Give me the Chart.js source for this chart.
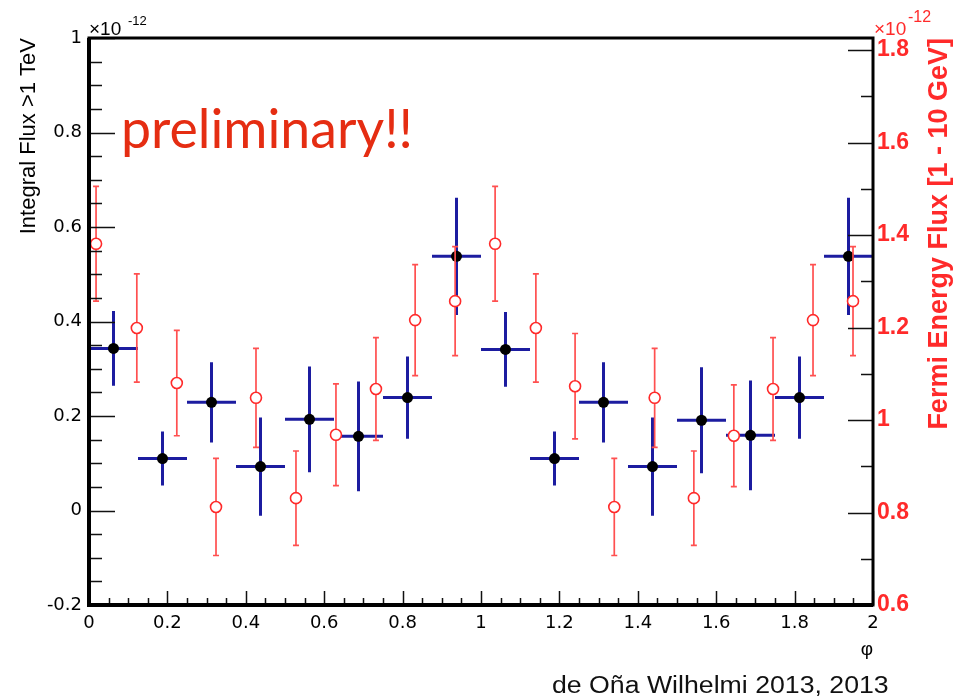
<!DOCTYPE html>
<html>
<head>
<meta charset="utf-8">
<script src="https://cdn.jsdelivr.net/npm/chart.js@4.4.1/dist/chart.umd.min.js"></script>
<style>
  html, body { margin: 0; padding: 0; background: #fff; }
  #wrap { position: relative; width: 962px; height: 698px; }
</style>
</head>
<body>
<div id="wrap"><canvas id="fluxChart" width="962" height="698"></canvas></div>
<script>
// H.E.S.S. integral flux > 1 TeV (left axis, units of 1e-12)
const hessPhase = [0.0625, 0.1875, 0.3125, 0.4375, 0.5625, 0.6875, 0.8125, 0.9375,
                   1.0625, 1.1875, 1.3125, 1.4375, 1.5625, 1.6875, 1.8125, 1.9375];
const hessFlux = [0.343, 0.110, 0.229, 0.093, 0.193, 0.157, 0.239, 0.538,
                  0.341, 0.110, 0.229, 0.093, 0.191, 0.159, 0.239, 0.538];
const hessErr = [0.079, 0.057, 0.085, 0.104, 0.112, 0.116, 0.087, 0.124,
                 0.079, 0.057, 0.085, 0.104, 0.112, 0.116, 0.087, 0.124];
const hessHalfBin = 0.0625;

// Fermi energy flux 1-10 GeV (right axis, units of 1e-12)
const fermiPhase = [0.018, 0.122, 0.224, 0.324, 0.426, 0.528, 0.630, 0.732, 0.832, 0.934,
                    1.036, 1.140, 1.240, 1.340, 1.443, 1.543, 1.645, 1.745, 1.847, 1.949];
const fermiFlux = [1.381, 1.199, 1.080, 0.812, 1.048, 0.831, 0.968, 1.067, 1.216, 1.257,
                   1.381, 1.199, 1.073, 0.812, 1.048, 0.831, 0.966, 1.067, 1.216, 1.257];
const fermiErr = [0.124, 0.117, 0.114, 0.105, 0.107, 0.102, 0.110, 0.111, 0.120, 0.118,
                  0.124, 0.117, 0.114, 0.105, 0.107, 0.102, 0.110, 0.111, 0.120, 0.118];

// axes
const phiRange = [0, 2];
const leftRange = [-0.2, 1];
const rightRange = [0.6, 1.826];
const rightTicks = [0.6, 0.7, 0.8, 0.9, 1.0, 1.1, 1.2, 1.3, 1.4, 1.5, 1.6, 1.7, 1.8];

const BLUE = '#1c1ca0';
const RED = '#ff2a2a';
const RED_LIGHT = '#ff5050';
const FONT = '"Liberation Sans", Arial, Helvetica, sans-serif';
const TICK_FONT = '"DejaVu Sans", "Liberation Sans", sans-serif';

const isMajor = v => Math.abs(v / 0.2 - Math.round(v / 0.2)) < 1e-6;
const fmt = v => String(Number(v.toFixed(2)));

const errorBars = {
    id: 'errorBars',
    beforeDatasetDraw(chart, args) {
        const ds = chart.data.datasets[args.index];
        const xs = chart.scales.x;
        const ys = chart.scales[ds.yAxisID];
        const ctx = chart.ctx;
        ctx.save();
        if (ds.label === 'hess') {
            ctx.strokeStyle = BLUE;
            ctx.lineWidth = 3;
            hessPhase.forEach((p, i) => {
                const px = xs.getPixelForValue(p);
                const py = ys.getPixelForValue(hessFlux[i]);
                ctx.beginPath();
                ctx.moveTo(xs.getPixelForValue(p - hessHalfBin), py);
                ctx.lineTo(xs.getPixelForValue(p + hessHalfBin), py);
                ctx.moveTo(px, ys.getPixelForValue(hessFlux[i] + hessErr[i]));
                ctx.lineTo(px, ys.getPixelForValue(hessFlux[i] - hessErr[i]));
                ctx.stroke();
            });
        } else {
            ctx.strokeStyle = RED_LIGHT;
            ctx.lineWidth = 1.7;
            fermiPhase.forEach((p, i) => {
                const px = xs.getPixelForValue(p);
                const top = ys.getPixelForValue(fermiFlux[i] + fermiErr[i]);
                const bot = ys.getPixelForValue(fermiFlux[i] - fermiErr[i]);
                ctx.beginPath();
                ctx.moveTo(px, top);
                ctx.lineTo(px, bot);
                ctx.moveTo(px - 3, top);
                ctx.lineTo(px + 3, top);
                ctx.moveTo(px - 3, bot);
                ctx.lineTo(px + 3, bot);
                ctx.stroke();
            });
        }
        ctx.restore();
    }
};

const frameAndText = {
    id: 'frameAndText',
    afterDraw(chart) {
        const ctx = chart.ctx;
        const a = chart.chartArea;
        const xs = chart.scales.x, yl = chart.scales.y, yr = chart.scales.y2;
        ctx.save();
        // inner tick marks
        ctx.strokeStyle = '#111';
        ctx.lineWidth = 1.5;
        ctx.beginPath();
        yl.ticks.forEach(t => {
            const py = Math.round(yl.getPixelForValue(t.value)) + 0.5;
            ctx.moveTo(a.left, py);
            ctx.lineTo(a.left + (isMajor(t.value) ? 26 : 13), py);
        });
        rightTicks.forEach(v => {
            const py = Math.round(yr.getPixelForValue(v)) + 0.5;
            ctx.moveTo(a.right, py);
            ctx.lineTo(a.right - (isMajor(v) ? 25 : 12), py);
        });
        xs.ticks.forEach(t => {
            const px = Math.round(xs.getPixelForValue(t.value)) + 0.5;
            ctx.moveTo(px, a.bottom);
            ctx.lineTo(px, a.bottom - (isMajor(t.value) ? 14 : 7));
        });
        ctx.stroke();
        // frame
        ctx.strokeStyle = '#000';
        ctx.lineWidth = 3;
        ctx.strokeRect(a.left, a.top, a.right - a.left, a.bottom - a.top);
        ctx.lineWidth = 4;
        ctx.beginPath();
        ctx.moveTo(a.left, a.top);
        ctx.lineTo(a.left, a.bottom);
        ctx.lineTo(a.right, a.bottom);
        ctx.stroke();

        // exponent labels
        ctx.textBaseline = 'alphabetic';
        ctx.textAlign = 'left';
        ctx.fillStyle = '#000';
        ctx.font = '19px ' + FONT;
        ctx.fillText('\u00d710', 89, 35);
        ctx.font = '13px ' + FONT;
        ctx.fillText('-12', 128, 25);
        ctx.fillStyle = RED;
        ctx.font = '19px ' + FONT;
        ctx.fillText('\u00d710', 874, 35);
        ctx.font = '16px ' + FONT;
        ctx.fillText('-12', 908, 22);

        // axis titles
        ctx.fillStyle = '#000';
        ctx.font = '22px ' + FONT;
        ctx.save();
        ctx.translate(35, a.top);
        ctx.rotate(-Math.PI / 2);
        ctx.textAlign = 'right';
        ctx.fillText('Integral Flux >1 TeV', 0, 0);
        ctx.restore();

        ctx.fillStyle = RED;
        ctx.font = 'bold 27px ' + FONT;
        ctx.save();
        ctx.translate(947, a.top);
        ctx.rotate(-Math.PI / 2);
        ctx.textAlign = 'right';
        ctx.fillText('Fermi Energy Flux [1 - 10 GeV]', 0, 0);
        ctx.restore();

        ctx.fillStyle = '#000';
        ctx.font = '19px ' + FONT;
        ctx.textAlign = 'center';
        ctx.fillText('\u03c6', 867, 655);

        // annotation
        ctx.fillStyle = '#e52d12';
        ctx.font = '54px Lato, "Open Sans", sans-serif';
        ctx.textAlign = 'left';
        ctx.fillText('preliminary!!', 121, 148, 292);

        ctx.fillStyle = '#111';
        ctx.font = '23px ' + FONT;
        ctx.translate(552, 693);
        ctx.scale(1.16, 1);
        ctx.fillText('de O\u00f1a Wilhelmi 2013, 2013', 0, 0);
        ctx.restore();
    }
};

new Chart(document.getElementById('fluxChart'), {
    type: 'scatter',
    data: {
        datasets: [
            {
                label: 'hess',
                yAxisID: 'y',
                order: 2,
                data: hessPhase.map((p, i) => ({ x: p, y: hessFlux[i] })),
                pointRadius: 5.5,
                pointBackgroundColor: '#000',
                pointBorderWidth: 0,
                showLine: false
            },
            {
                label: 'fermi',
                yAxisID: 'y2',
                order: 1,
                data: fermiPhase.map((p, i) => ({ x: p, y: fermiFlux[i] })),
                pointRadius: 5.5,
                pointBackgroundColor: '#fff',
                pointBorderColor: RED,
                pointBorderWidth: 1.6,
                showLine: false
            }
        ]
    },
    options: {
        responsive: false,
        animation: false,
        layout: { padding: { top: 38, left: 0, right: 0, bottom: 0 } },
        plugins: { legend: { display: false }, tooltip: { enabled: false } },
        scales: {
            x: {
                type: 'linear',
                min: phiRange[0],
                max: phiRange[1],
                grid: { display: false, drawTicks: false },
                border: { display: false },
                ticks: {
                    stepSize: 0.05,
                    autoSkip: false,
                    maxRotation: 0,
                    padding: 8,
                    color: '#000',
                    font: { family: TICK_FONT, size: 18 },
                    callback: v => isMajor(v) ? fmt(v) : ''
                },
                afterFit: s => { s.height = 93; }
            },
            y: {
                type: 'linear',
                position: 'left',
                min: leftRange[0],
                max: leftRange[1],
                grid: { display: false, drawTicks: false },
                border: { display: false },
                ticks: {
                    stepSize: 0.05,
                    autoSkip: false,
                    padding: 7,
                    color: '#000',
                    font: { family: TICK_FONT, size: 18 },
                    callback: v => isMajor(v) ? fmt(v) : ''
                },
                afterFit: s => { s.width = 89; }
            },
            y2: {
                type: 'linear',
                position: 'right',
                min: rightRange[0],
                max: rightRange[1],
                grid: { display: false, drawTicks: false },
                border: { display: false },
                afterBuildTicks: s => { s.ticks = rightTicks.map(v => ({ value: v })); },
                ticks: {
                    autoSkip: false,
                    padding: 4,
                    color: RED,
                    font: { family: FONT, size: 23, weight: 'bold' },
                    callback: v => isMajor(v) ? fmt(v) : ''
                },
                afterFit: s => { s.width = 89; }
            }
        }
    },
    plugins: [errorBars, frameAndText]
});
</script>
</body>
</html>
